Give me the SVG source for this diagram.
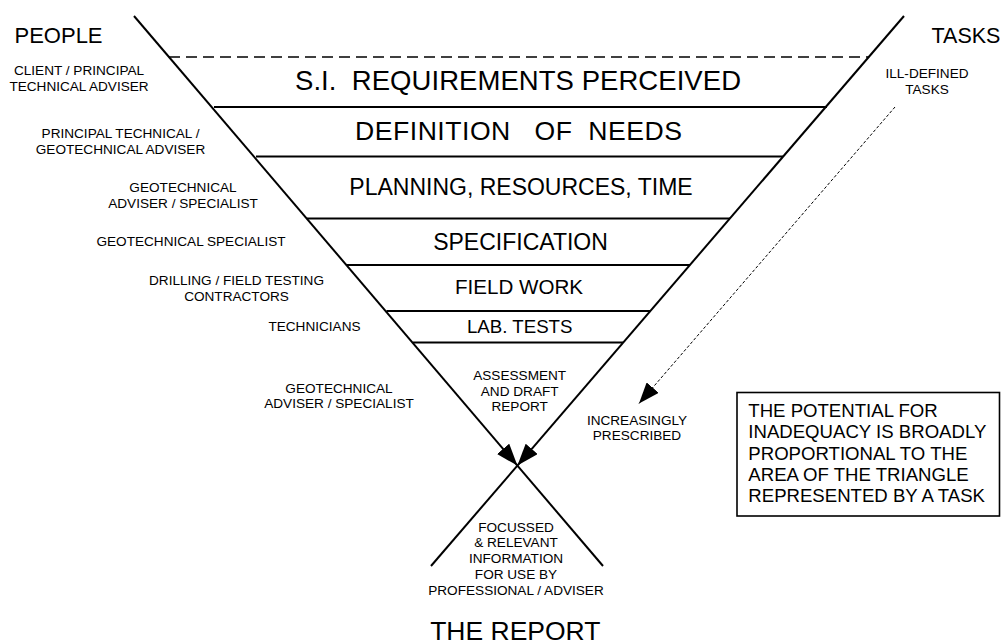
<svg xmlns="http://www.w3.org/2000/svg" width="1006" height="644" viewBox="0 0 1006 644">
<style>
text{font-family:"Liberation Sans",Arial,Helvetica,sans-serif;fill:#000;white-space:pre}
.m{text-anchor:middle}
.s{font-size:13.6px}
.ln{stroke:#000;stroke-width:2;fill:none}
.band{stroke:#000;stroke-width:2}
</style>
<defs>
<marker id="ah" viewBox="0 0 22 16" refX="22" refY="8" markerWidth="22" markerHeight="16" markerUnits="userSpaceOnUse" orient="auto">
<path d="M0,0 L22,8 L0,16 z" fill="#000"/>
</marker>
<marker id="ah2" viewBox="0 0 21 16" refX="21" refY="8" markerWidth="21" markerHeight="16" markerUnits="userSpaceOnUse" orient="auto">
<path d="M0,0 L21,8 L0,16 z" fill="#000"/>
</marker>
</defs>
<rect width="1006" height="644" fill="#fff"/>
<g id="connectors">
<line class="ln" x1="134" y1="16" x2="517.4" y2="465.6" marker-end="url(#ah)"/>
<line class="ln" x1="517.4" y1="465.6" x2="603" y2="566"/>
<line class="ln" x1="904" y1="16" x2="517.4" y2="465.6" marker-end="url(#ah)"/>
<line class="ln" x1="517.4" y1="465.6" x2="431" y2="566"/>
<line x1="895" y1="107" x2="639" y2="403.5" stroke="#000" stroke-width="1" stroke-dasharray="3,2" marker-end="url(#ah2)"/>
</g>
<g id="bands">
<line x1="169" y1="57" x2="869" y2="57" stroke="#000" stroke-width="1.6" stroke-dasharray="11,6"/>
<line class="band" x1="214" y1="107" x2="827" y2="107"/>
<line class="band" x1="256" y1="156.5" x2="783" y2="156.5"/>
<line class="band" x1="307" y1="218.5" x2="730" y2="218.5"/>
<line class="band" x1="346.5" y1="265" x2="690" y2="265"/>
<line class="band" x1="386.5" y1="311" x2="650" y2="311"/>
<line class="band" x1="413" y1="342.5" x2="623" y2="342.5"/>
</g>
<g id="n-si"><text class="m" x="518" y="90" font-size="27.5" textLength="446">S.I.  REQUIREMENTS PERCEIVED</text></g>
<g id="n-def"><text x="355" y="140" font-size="26.6" textLength="327">DEFINITION   OF  NEEDS</text></g>
<g id="n-plan"><text class="m" x="521" y="195" font-size="23">PLANNING, RESOURCES, TIME</text></g>
<g id="n-spec"><text class="m" x="520.5" y="249.5" font-size="23">SPECIFICATION</text></g>
<g id="n-field"><text class="m" x="519" y="294" font-size="20.6">FIELD WORK</text></g>
<g id="n-lab"><text class="m" x="519.7" y="333" font-size="18.7">LAB. TESTS</text></g>
<g id="n-assess"><text class="m s" x="519.7" y="380">ASSESSMENT<tspan x="519.7" y="395.7">AND DRAFT</tspan><tspan x="519.7" y="411.4">REPORT</tspan></text></g>
<g id="n-report-info"><text class="m s" x="516" y="531.7">FOCUSSED<tspan x="516" y="547.4">&amp; RELEVANT</tspan><tspan x="516" y="563.1">INFORMATION</tspan><tspan x="516" y="578.8">FOR USE BY</tspan><tspan x="516" y="594.5">PROFESSIONAL / ADVISER</tspan></text></g>
<g id="n-report"><text class="m" x="515.3" y="640" font-size="26.5">THE REPORT</text></g>
<g id="n-people"><text x="14.5" y="43.3" font-size="22">PEOPLE</text></g>
<g id="n-tasks"><text x="931.5" y="43.3" font-size="21.5">TASKS</text></g>
<g id="p1"><text class="m s" x="79" y="75">CLIENT / PRINCIPAL<tspan x="79" y="90.7">TECHNICAL ADVISER</tspan></text></g>
<g id="p2"><text class="m s" x="120.5" y="138.3">PRINCIPAL TECHNICAL /<tspan x="120.5" y="153.5">GEOTECHNICAL ADVISER</tspan></text></g>
<g id="p3"><text class="m s" x="183" y="192.3">GEOTECHNICAL<tspan x="183" y="207.7">ADVISER / SPECIALIST</tspan></text></g>
<g id="p4"><text class="m s" x="191" y="246">GEOTECHNICAL SPECIALIST</text></g>
<g id="p5"><text class="m s" x="236.5" y="285">DRILLING / FIELD TESTING<tspan x="236.5" y="300.5">CONTRACTORS</tspan></text></g>
<g id="p6"><text class="m s" x="314.5" y="330.7">TECHNICIANS</text></g>
<g id="p7"><text class="m s" x="339" y="392.7">GEOTECHNICAL<tspan x="339" y="408.3">ADVISER / SPECIALIST</tspan></text></g>
<g id="t-ill"><text class="m s" x="927" y="78.3">ILL-DEFINED<tspan x="927" y="93.5">TASKS</tspan></text></g>
<g id="t-incr"><text class="m s" x="637" y="425">INCREASINGLY<tspan x="637" y="439.5">PRESCRIBED</tspan></text></g>
<g id="note">
<rect x="737" y="392.5" width="262.5" height="123.5" fill="#fff" stroke="#000" stroke-width="1.6"/>
<text x="748.3" y="416.8" font-size="18.6">THE POTENTIAL FOR<tspan x="748.3" y="438.2">INADEQUACY IS BROADLY</tspan><tspan x="748.3" y="459.6">PROPORTIONAL TO THE</tspan><tspan x="748.3" y="481">AREA OF THE TRIANGLE</tspan><tspan x="748.3" y="502.4">REPRESENTED BY A TASK</tspan></text>
</g>
</svg>
